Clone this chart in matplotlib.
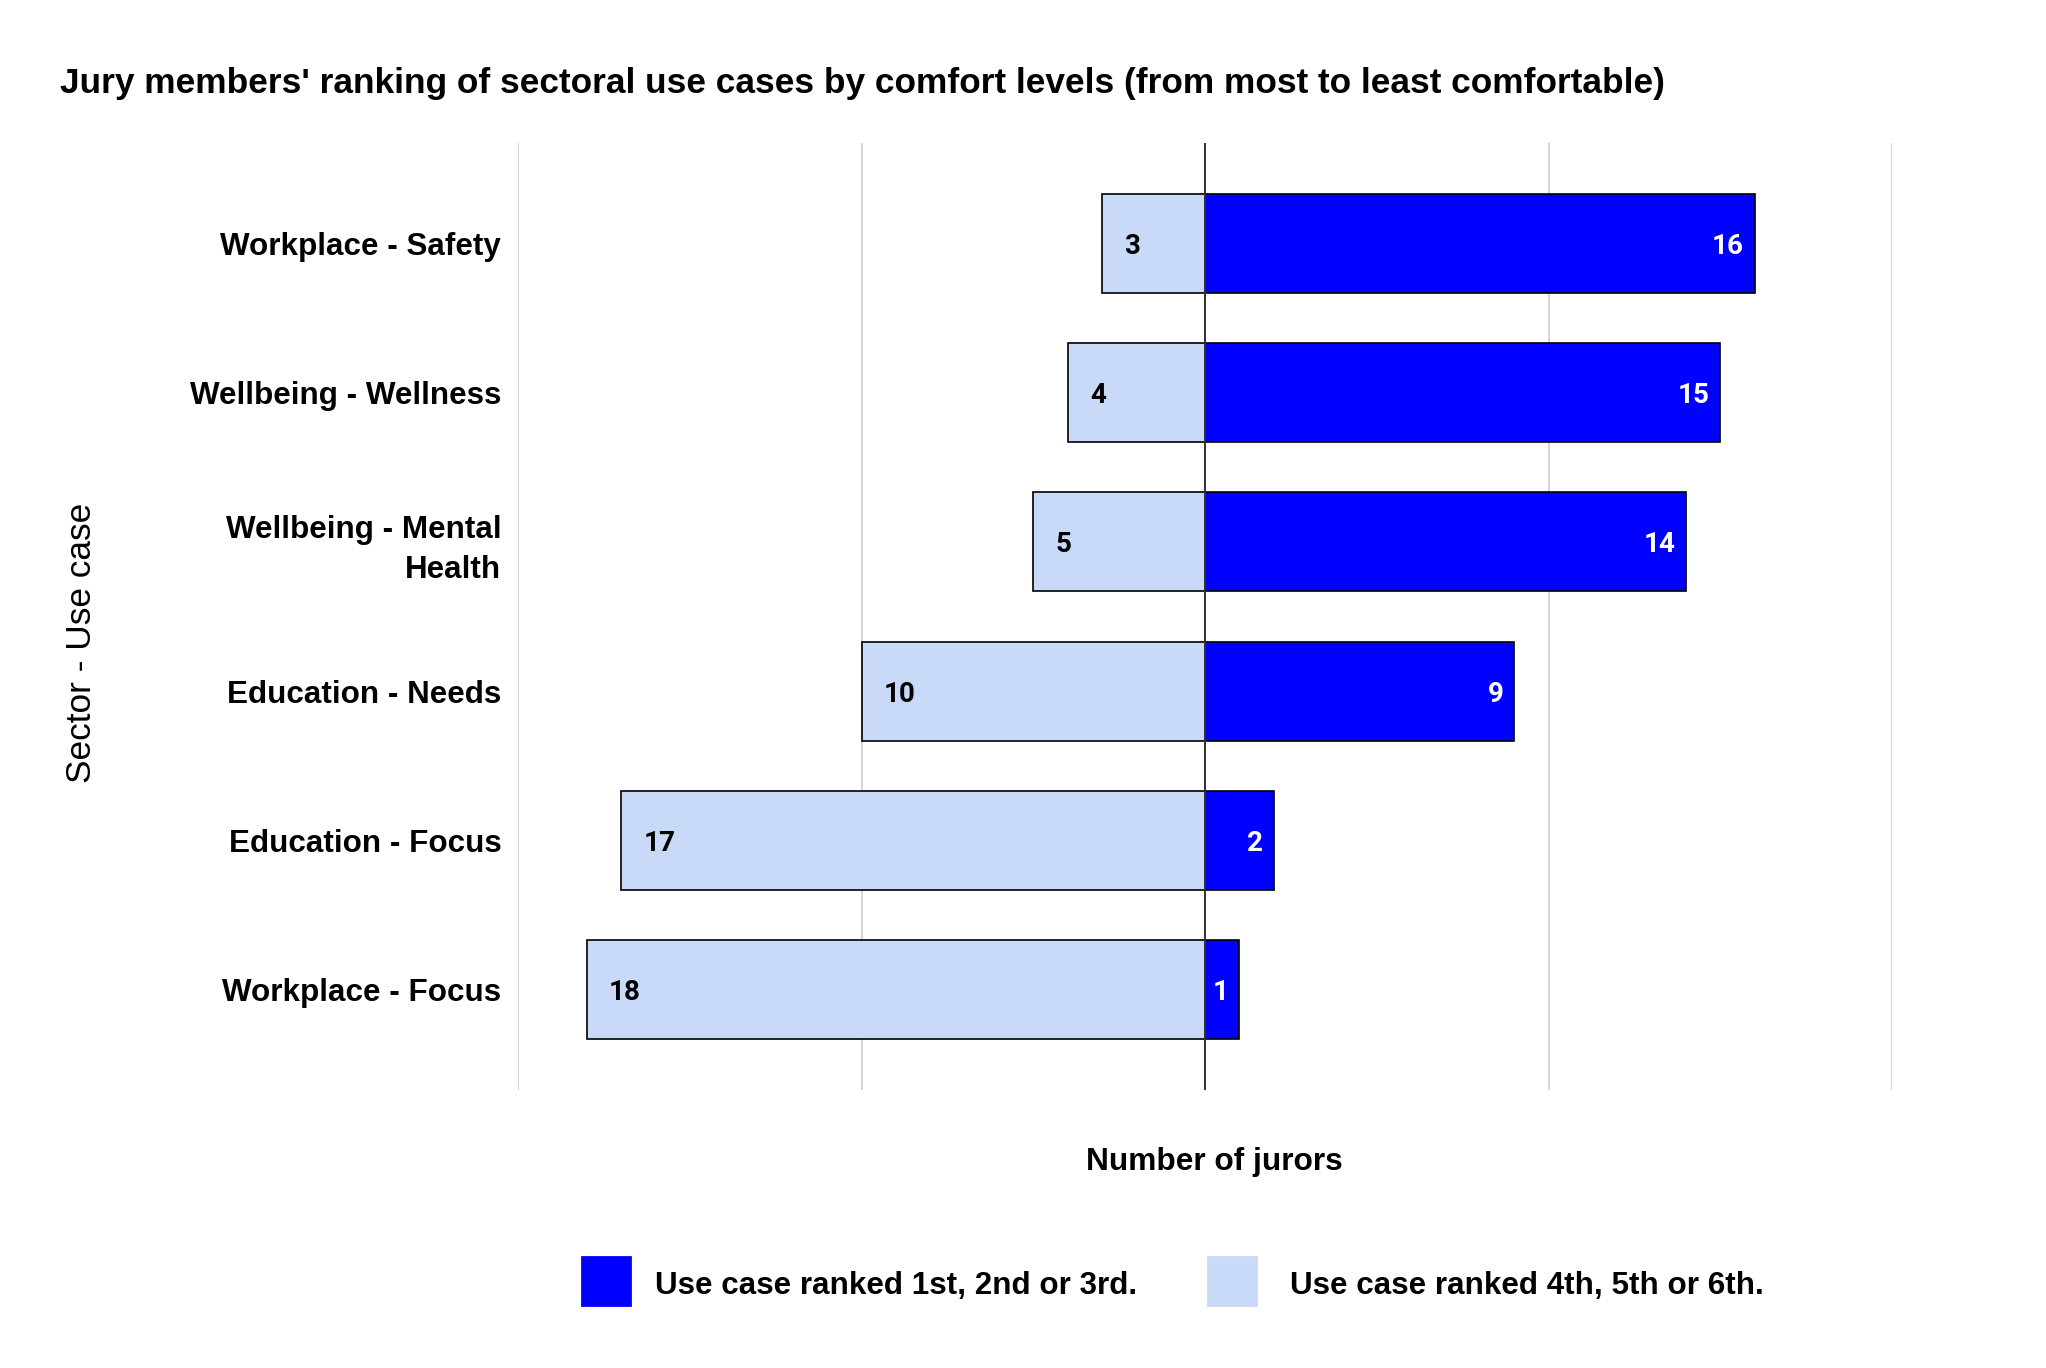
import matplotlib
matplotlib.use("Agg")
import matplotlib.pyplot as plt
from matplotlib.patches import Rectangle

categories = ["Workplace - Safety", "Wellbeing - Wellness", "Wellbeing - Mental\nHealth",
              "Education - Needs", "Education - Focus", "Workplace - Focus"]
top3 = [16, 15, 14, 9, 2, 1]
bottom3 = [3, 4, 5, 10, 17, 18]
series_names = ["Use case ranked 1st, 2nd or 3rd.", "Use case ranked 4th, 5th or 6th."]
title = "Jury members' ranking of sectoral use cases by comfort levels (from most to least comfortable)"

BLUE = "#0000ff"
LIGHT = "#c9daf8"

plt.rcParams['font.family'] = ['Liberation Sans', 'DejaVu Sans']

W, H = 2046, 1368
fig = plt.figure(figsize=(W / 200, H / 200), dpi=200)
ax = fig.add_axes([518 / W, 1 - 1090 / H, (1892 - 518) / W, (1090 - 143) / H])

y = list(range(len(categories)))
h = 0.663
ax.barh(y, [-v for v in bottom3], height=h, color=LIGHT, edgecolor="black", linewidth=0.6, zorder=3)
ax.barh(y, top3, height=h, color=BLUE, edgecolor="black", linewidth=0.6, zorder=3)

for yi, v in zip(y, bottom3):
    ax.annotate(str(v), (-v, yi), xytext=(8.0, 0), textcoords="offset points",
                ha="left", va="center_baseline", fontsize=10, fontweight="bold",
                family=["Roboto", "DejaVu Sans"], color="black", zorder=4)
for yi, v in zip(y, top3):
    ax.annotate(str(v), (v, yi), xytext=(-3.8, 0), textcoords="offset points",
                ha="right", va="center_baseline", fontsize=10, fontweight="bold",
                family=["Roboto", "DejaVu Sans"], color="white", zorder=4)

ax.set_xlim(-20, 20)
ax.set_ylim(len(categories) - 1 + 0.67, -0.67)
ax.set_xticks([-20, -10, 0, 10, 20])
ax.set_xticklabels([])
ax.tick_params(axis="x", length=0)
ax.tick_params(axis="y", length=0, pad=6)
ax.set_yticks(y)
ax.set_yticklabels(categories, fontsize=11.3, fontweight="bold", ha="right", linespacing=1.4)
ax.grid(axis="x", color="#cccccc", linewidth=0.6, zorder=0)
ax.axvline(0, color="#333333", linewidth=0.7, zorder=5)
for s in ax.spines.values():
    s.set_visible(False)

ax.set_xlabel("Number of jurors", fontsize=11.4, fontweight="bold", labelpad=17, x=0.5066)
fig.text(0.0400, 1 - 643 / H, "Sector - Use case", rotation=90, fontsize=12.7, ha="center", va="center")

fig.text(60 / W, 0.939, title, fontsize=12.7, fontweight="bold", ha="left", va="center")

# legend
sq = 48
ly = 1 - 1305 / H
fig.add_artist(Rectangle((582 / W, ly), sq / W, sq / H, transform=fig.transFigure, color=BLUE))
fig.text(655 / W, 1 - 1294 / H, series_names[0], fontsize=11.3, fontweight="bold", va="baseline", ha="left")
fig.add_artist(Rectangle((1208 / W, ly), sq / W, sq / H, transform=fig.transFigure, color=LIGHT))
fig.text(1290 / W, 1 - 1294 / H, series_names[1], fontsize=11.3, fontweight="bold", va="baseline", ha="left")

fig.savefig("out.png", dpi=200, facecolor="white")
